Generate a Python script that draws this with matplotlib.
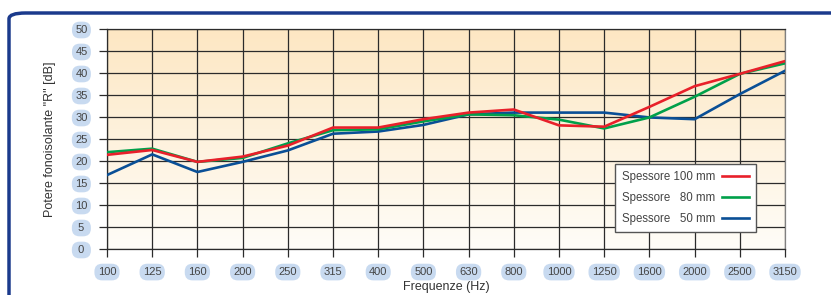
import numpy as np
import matplotlib
matplotlib.use("Agg")
import matplotlib.pyplot as plt
from matplotlib.patches import FancyBboxPatch

plt.rcParams['font.family'] = ['Liberation Sans', 'DejaVu Sans']

freqs = ["100", "125", "160", "200", "250", "315", "400", "500", "630",
         "800", "1000", "1250", "1600", "2000", "2500", "3150"]
r_100 = [21.4, 22.5, 19.8, 21.0, 23.5, 27.6, 27.6, 29.5, 31.0, 31.7,
         28.1, 27.8, 32.3, 37.0, 39.8, 42.7]
r_80 = [22.0, 22.8, 19.8, 20.7, 24.0, 27.0, 27.2, 29.0, 30.6, 30.4,
        29.4, 27.4, 29.9, 34.6, 39.8, 42.2]
r_50 = [16.8, 21.5, 17.5, 19.8, 22.4, 26.2, 26.7, 28.2, 30.6, 31.0,
        31.0, 31.0, 29.9, 29.5, 35.2, 40.5]
labels = ["Spessore 100 mm", "Spessore \u200780 mm", "Spessore \u200750 mm"]
colors = ["#e8202a", "#00a04a", "#0a4f96"]

fig = plt.figure(figsize=(8.31, 2.95), dpi=100)
ax = fig.add_axes([107/831, 46/295, 678/831, 220/295])

# outer frame
frame = FancyBboxPatch((9/831, -0.2), 1.2, 1 - 13/295 + 0.2,
                       boxstyle="round,pad=0,rounding_size=0.02",
                       transform=fig.transFigure, fill=False,
                       ec="#1b3a8c", lw=2.5, zorder=0)
fig.patches.append(frame)

x = np.arange(len(freqs))
n = len(freqs) - 1

# gradient background
grad = np.linspace(0, 1, 256).reshape(-1, 1)
top = np.array([253, 231, 195]) / 255
bot = np.array([255, 253, 248]) / 255
img = top * (1 - grad[..., None]) + bot * grad[..., None]
img = img.reshape(256, 1, 3)
ax.imshow(img, extent=[0, n, 0, 50], aspect='auto', origin='upper', zorder=0)

series = [r_100, r_80, r_50]
lines = []
for i in [2, 1, 0]:  # red drawn last, on top
    ln, = ax.plot(x, series[i], color=colors[i], lw=1.9, label=labels[i],
                  zorder=3)
    lines.insert(0, ln)

ax.set_xlim(0, n)
ax.set_ylim(0, 50)
ax.set_xticks(x)
ax.set_xticklabels(freqs)
ax.set_yticks(np.arange(0, 51, 5))
ax.grid(True, color="#2b2b2b", lw=0.9, zorder=1)
ax.set_axisbelow(False)
for s in ax.spines.values():
    s.set_color("#2b2b2b")
    s.set_linewidth(0.9)
ax.spines['right'].set_color("#808080")
ax.tick_params(axis='both', length=6, width=0.9, color="#2b2b2b",
               labelsize=8, labelcolor="#444444")
ax.tick_params(axis='y', pad=8)
ax.tick_params(axis='x', pad=7)
for t in ax.get_yticklabels():
    t.set_text(t.get_text())
    t.set_bbox(dict(boxstyle="round,pad=0.3,rounding_size=0.7",
                    fc="#c8daf0", ec="none"))
for t in ax.get_xticklabels():
    t.set_bbox(dict(boxstyle="round,pad=0.3,rounding_size=0.7",
                    fc="#c8daf0", ec="none"))
ax.set_yticklabels([" %d " % v if v < 10 else "%d" % v
                    for v in np.arange(0, 51, 5)])
for t in ax.get_yticklabels():
    t.set_bbox(dict(boxstyle="round,pad=0.3,rounding_size=0.7",
                    fc="#c8daf0", ec="none"))

ax.set_xlabel("Frequenze (Hz)", fontsize=9, color="#333333", labelpad=3)
ax.set_ylabel('Potere fonoisolante "R" [dB]', fontsize=9, color="#333333",
              labelpad=14)

leg = ax.legend(handles=lines, loc='lower right',
                bbox_to_anchor=(0.965, 0.05),
                markerfirst=False, fontsize=8.3, frameon=True, fancybox=False,
                edgecolor="#555555", framealpha=1, handlelength=2.3,
                labelspacing=0.8, borderpad=0.6, handletextpad=0.6)
leg.get_frame().set_linewidth(1.0)
for t in leg.get_texts():
    t.set_color("#444444")
leg.set_zorder(5)

fig.savefig("out.png", dpi=100)
